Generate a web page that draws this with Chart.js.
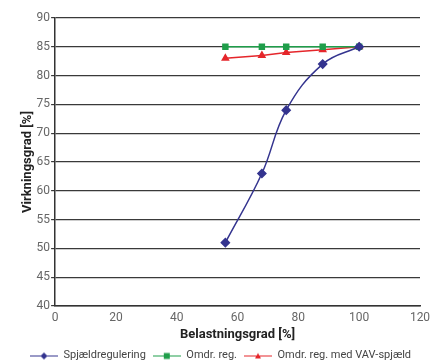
<!DOCTYPE html>
<html>
<head>
<meta charset="utf-8">
<script src="https://cdn.jsdelivr.net/npm/chart.js@4/dist/chart.umd.min.js"></script>
<style>
  html, body { margin: 0; padding: 0; background: #fff; }
  #wrap { width: 433px; height: 362px; position: relative; }
</style>
</head>
<body>
<div id="wrap"><canvas id="c"></canvas></div>
<script>
// Load level (%) for each measured point
const loadLevels = [56, 68, 76, 88, 100];

// Efficiency (%) per control method
const damperControl = [51, 63, 74, 82, 85];
const speedControl = [85, 85, 85, 85, 85];
const speedControlVav = [83, 83.5, 84, 84.5, 85];

const seriesNames = ['Spjældregulering', 'Omdr. reg.', 'Omdr. reg. med VAV-spjæld'];

const xTicks = [0, 20, 40, 60, 80, 100, 120];
const yTicks = [40, 45, 50, 55, 60, 65, 70, 75, 80, 85, 90];

const BLUE = '#34348f';
const GREEN = '#1f9e4a';
const RED = '#e5262b';

function toPoints(values) {
  return loadLevels.map((x, i) => ({ x: x, y: values[i] }));
}

// Small line-with-marker swatches for the legend
function swatch(color, style) {
  const c = document.createElement('canvas');
  c.width = 28; c.height = 10;
  const g = c.getContext('2d');
  g.strokeStyle = color; g.lineWidth = 1;
  g.beginPath(); g.moveTo(0, 5.5); g.lineTo(28, 5.5); g.stroke();
  g.fillStyle = color;
  g.beginPath();
  if (style === 'diamond') {
    g.moveTo(14, 2); g.lineTo(17.5, 5.5); g.lineTo(14, 9); g.lineTo(10.5, 5.5);
  } else if (style === 'square') {
    g.rect(11, 2.5, 6, 6);
  } else {
    g.moveTo(14, 2.5); g.lineTo(17, 8); g.lineTo(11, 8);
  }
  g.closePath(); g.fill();
  return c;
}
const swatches = [swatch(BLUE, 'diamond'), swatch(GREEN, 'square'), swatch(RED, 'triangle')];

const FONT = 'Roboto, "Liberation Sans", sans-serif';

new Chart(document.getElementById('c'), {
  type: 'line',
  data: {
    datasets: [
      {
        label: seriesNames[0],
        data: toPoints(damperControl),
        borderColor: BLUE, backgroundColor: BLUE,
        borderWidth: 1.5, tension: 0.4,
        pointStyle: 'rectRot', pointRadius: 4, pointHoverRadius: 4
      },
      {
        label: seriesNames[1],
        data: toPoints(speedControl),
        borderColor: GREEN, backgroundColor: GREEN,
        borderWidth: 1.5, tension: 0,
        pointStyle: 'rect', pointRadius: 3.5, pointHoverRadius: 3.5
      },
      {
        label: seriesNames[2],
        data: toPoints(speedControlVav),
        borderColor: RED, backgroundColor: RED,
        borderWidth: 1.5, tension: 0,
        pointStyle: 'triangle', pointRadius: 3.5, pointHoverRadius: 3.5
      }
    ]
  },
  options: {
    responsive: true,
    maintainAspectRatio: false,
    animation: false,
    layout: { padding: { left: 12, right: 4, top: 18, bottom: -9 } },
    scales: {
      x: {
        type: 'linear',
        min: xTicks[0], max: xTicks[xTicks.length - 1],
        afterBuildTicks: s => { s.ticks = xTicks.map(v => ({ value: v })); },
        afterFit: s => { s.paddingRight = 13; },
        grid: { display: false, drawOnChartArea: false, drawTicks: true, tickLength: 4, color: '#333' },
        border: { display: true, color: '#333', width: 1.5 },
        ticks: { color: '#666', font: { family: FONT, size: 12 }, padding: 1, maxRotation: 0 },
        title: { display: true, text: 'Belastningsgrad [%]', color: '#222',
                 font: { family: FONT, size: 13, weight: 'bold' }, padding: { top: 1, bottom: 0 } }
      },
      y: {
        type: 'linear',
        min: yTicks[0], max: yTicks[yTicks.length - 1],
        afterBuildTicks: s => { s.ticks = yTicks.map(v => ({ value: v })); },
        grid: { color: '#3a3a3a', lineWidth: 1.2, drawTicks: true, tickLength: 4 },
        border: { display: true, color: '#333', width: 1.5 },
        ticks: { color: '#666', font: { family: FONT, size: 12 }, padding: 1 },
        title: { display: true, text: 'Virkningsgrad [%]', color: '#222',
                 font: { family: FONT, size: 13, weight: 'bold' }, padding: { top: 8, bottom: 0 } }
      }
    },
    plugins: {
      legend: {
        position: 'bottom',
        labels: {
          usePointStyle: true,
          pointStyleWidth: 28,
          boxHeight: 10,
          padding: 7,
          color: '#444',
          font: { family: FONT, size: 11 },
          generateLabels: chart => {
            const items = Chart.defaults.plugins.legend.labels.generateLabels(chart);
            items.forEach((it, i) => { it.pointStyle = swatches[i]; });
            return items;
          }
        }
      },
      tooltip: { enabled: false }
    }
  }
});
</script>
</body>
</html>
